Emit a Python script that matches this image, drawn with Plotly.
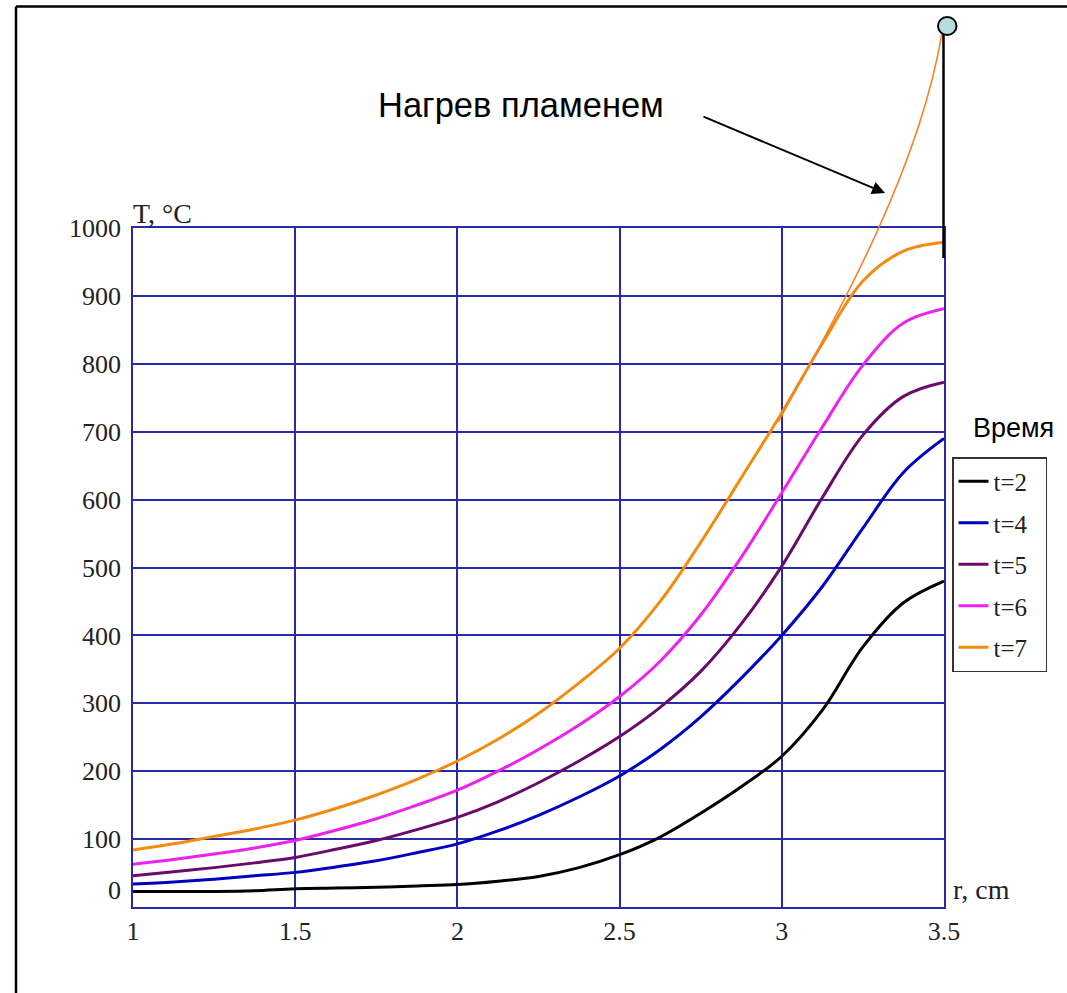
import plotly.graph_objects as go

# ---- data ----
r = [1, 1.125, 1.25, 1.375, 1.5, 1.625, 1.75, 1.875, 2, 2.125, 2.25, 2.375, 2.5,
     2.625, 2.75, 2.875, 3, 3.125, 3.25, 3.375, 3.5]
t2 = [23, 23, 23, 24, 27, 28, 29, 31, 33, 38, 45, 58, 77, 103, 138, 177, 222, 290, 383, 448, 480]
t4 = [34, 37, 41, 46, 51, 59, 68, 80, 93, 112, 135, 162, 193, 232, 280, 337, 400, 472, 558, 640, 690]
t5 = [46, 52, 58, 65, 73, 85, 98, 114, 132, 155, 183, 215, 251, 294, 347, 417, 502, 603, 695, 752, 773]
t6 = [63, 70, 78, 87, 98, 113, 130, 150, 172, 200, 232, 268, 310, 362, 430, 515, 610, 707, 798, 860, 881]
t7 = [84, 93, 104, 115, 128, 145, 165, 188, 215, 247, 285, 330, 381, 450, 537, 632, 728, 830, 922, 966, 979]

series_names = ["t=2", "t=4", "t=5", "t=6", "t=7"]
series_values = [t2, t4, t5, t6, t7]
series_colors = ["#000000", "#0000C0", "#6A0A6A", "#EE22EE", "#F08C10"]

x_ticks = [1, 1.5, 2, 2.5, 3, 3.5]
x_tick_text = ["1", "1.5", "2", "2.5", "3", "3.5"]
y_ticks = [0, 100, 200, 300, 400, 500, 600, 700, 800, 900, 1000]
y_tick_text = ["", "100", "200", "300", "400", "500", "600", "700", "800", "900", "1000"]

W, H = 1067, 993
L, R, T, B = 133, 944, 228, 907


def px(x):
    return (x - L) / (R - L)


def py(y):
    return (B - y) / (B - T)


fig = go.Figure()
for name, vals, col in zip(series_names, series_values, series_colors):
    fig.add_trace(go.Scatter(x=r, y=vals, mode="lines", name=name + "\u00a0\u00a0", legendgroup=name,
                             line=dict(color=col, width=3, shape="spline", smoothing=1.0)))

grid_col = "#2A2AA8"
serif = "Liberation Serif, Times New Roman, serif"
sans = "Liberation Sans, Arial, sans-serif"
txt_col = "#222222"

fig.update_xaxes(range=[1, 3.5], tickvals=x_ticks, ticktext=x_tick_text,
                 showgrid=True, gridcolor=grid_col, gridwidth=1.5,
                 showline=True, linecolor=grid_col, linewidth=1.5, mirror=True,
                 zeroline=False, ticks="", ticklabelstandoff=0,
                 tickfont=dict(family=serif, size=26, color=txt_col))
fig.update_yaxes(range=[0, 1000], tickvals=y_ticks, ticktext=y_tick_text,
                 showgrid=True, gridcolor=grid_col, gridwidth=1.5,
                 showline=True, linecolor=grid_col, linewidth=1.5, mirror=True,
                 zeroline=False, ticks="", ticklabelstandoff=5,
                 tickfont=dict(family=serif, size=26, color=txt_col))

flame_path = "M {:.4f},{:.4f} C {:.4f},{:.4f} {:.4f},{:.4f} {:.4f},{:.4f}".format(
    px(778), py(422), px(846), py(300), px(920), py(165), px(942), py(33))

shapes = [
    # outer frame (top and left)
    dict(type="line", xref="paper", yref="paper", x0=px(16), y0=py(6.5), x1=px(W + 5), y1=py(6.5),
         line=dict(color="black", width=2.5)),
    dict(type="line", xref="paper", yref="paper", x0=px(16), y0=py(6.5), x1=px(16), y1=py(H + 5),
         line=dict(color="black", width=2.5)),
    # flame: thin orange line
    dict(type="path", xref="paper", yref="paper", path=flame_path,
         line=dict(color="#F5822A", width=1.6)),
    # vertical black rod
    dict(type="line", xref="paper", yref="paper", x0=px(943.5), y0=py(34), x1=px(943.5), y1=py(258),
         line=dict(color="black", width=2.5)),
    # circle
    dict(type="circle", xref="paper", yref="paper", x0=px(938), y0=py(17), x1=px(956.5), y1=py(35),
         fillcolor="#B4DDE0", line=dict(color="black", width=2)),
]

annotations = [
    dict(text="T, °C", xref="paper", yref="paper", x=px(131), y=py(213), xanchor="left", yanchor="middle",
         showarrow=False, font=dict(family=serif, size=28, color=txt_col)),
    dict(text="r, cm", xref="paper", yref="paper", x=px(951), y=py(889), xanchor="left", yanchor="middle",
         showarrow=False, font=dict(family=serif, size=28, color=txt_col)),
    dict(text="0", xref="paper", yref="paper", x=px(123), y=py(890), xanchor="right", yanchor="middle",
         showarrow=False, font=dict(family=serif, size=26, color=txt_col)),
    dict(text="Нагрев пламенем", xref="paper", yref="paper", x=px(521), y=py(105), xanchor="center",
         yanchor="middle", showarrow=False, font=dict(family=sans, size=34.5, color="black")),
    dict(text="Время", xref="paper", yref="paper", x=px(1013), y=py(428), xanchor="center",
         yanchor="middle", showarrow=False, font=dict(family=sans, size=27, color="black")),
    dict(text="", xref="paper", yref="paper", x=px(885), y=py(193), ax=702 - 885, ay=116 - 193,
         showarrow=True, arrowhead=2, arrowsize=1.3, arrowwidth=2, arrowcolor="black"),
]

fig.update_layout(
    width=W, height=H,
    margin=dict(l=L, r=W - R, t=T, b=H - B),
    paper_bgcolor="white", plot_bgcolor="white",
    shapes=shapes, annotations=annotations,
    showlegend=True,
    legend=dict(x=px(952), y=py(457), xanchor="left", yanchor="top",
                bordercolor="#333333", borderwidth=1.5, bgcolor="white",
                font=dict(family=serif, size=25, color=txt_col),
                tracegroupgap=6, itemwidth=30),
)

fig.write_html("out.html", config={"displayModeBar": False},
               post_script="document.body.style.margin='0';")
